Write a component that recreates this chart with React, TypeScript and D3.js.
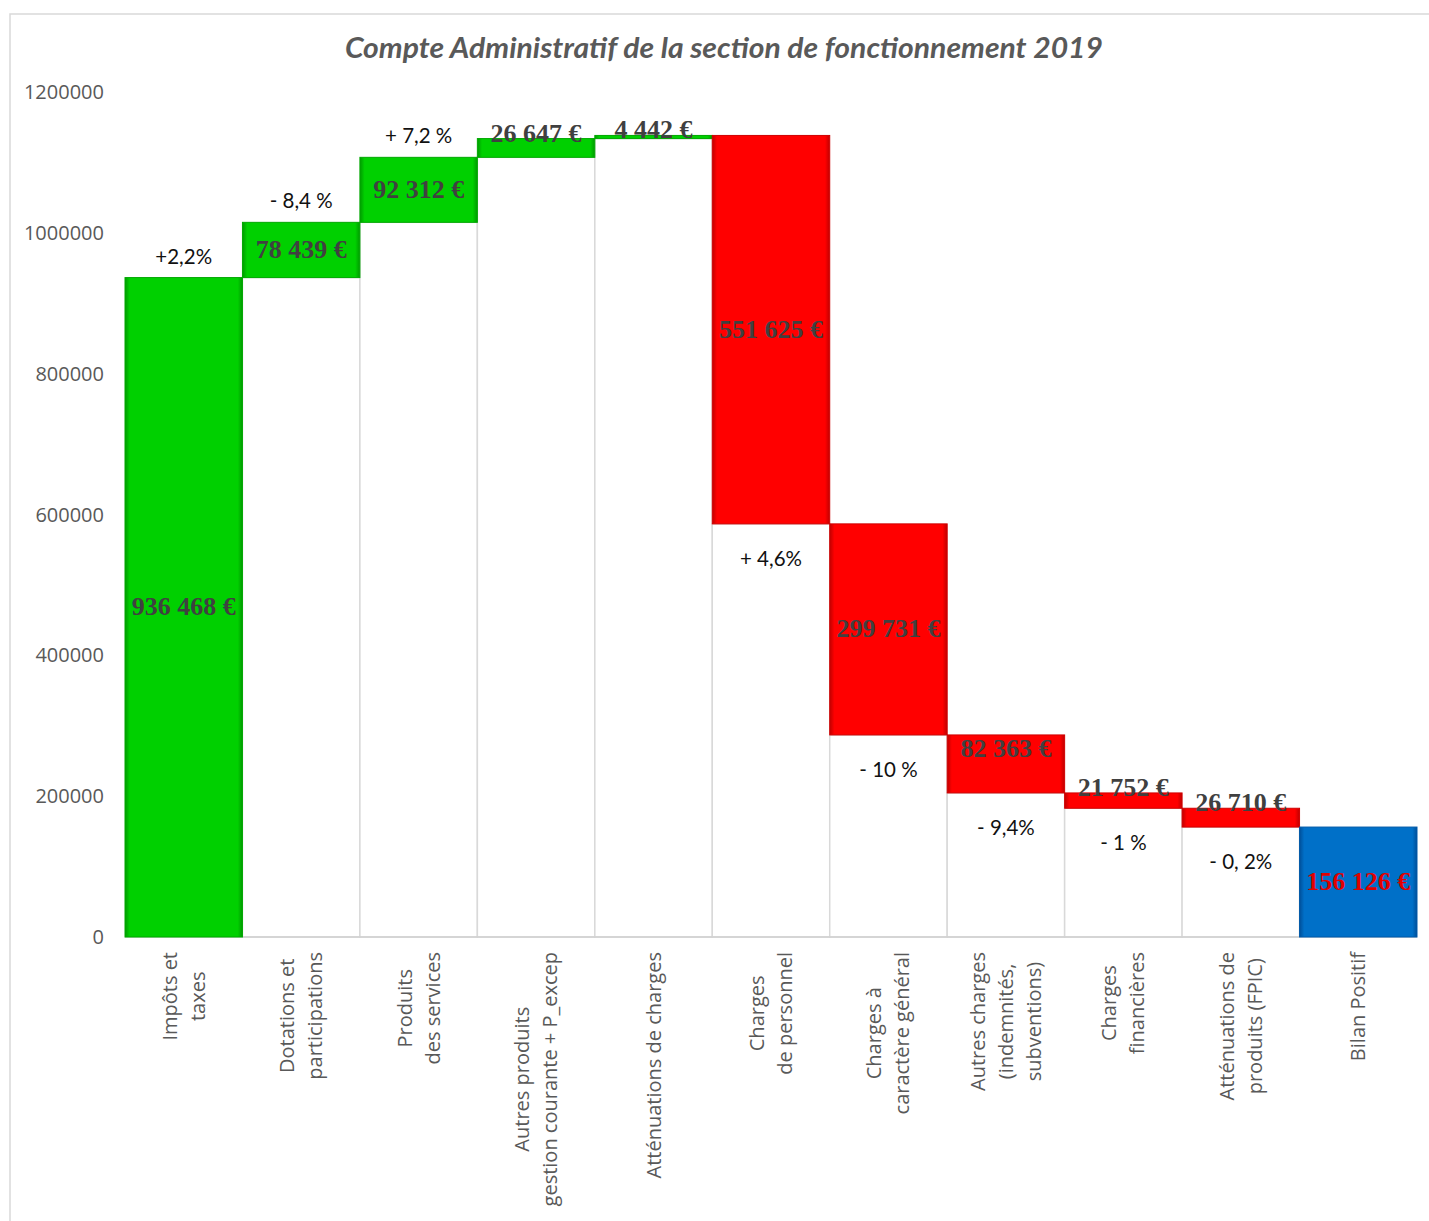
import React, { useEffect, useRef } from "react";
import * as d3 from "d3";

const title = "Compte Administratif de la section de fonctionnement  2019";
const categories: string[][] = [
  ["Impôts et", "taxes"],
  ["Dotations et", "participations"],
  ["Produits", "des services"],
  ["Autres produits", "gestion courante + P_excep"],
  ["Atténuations de charges"],
  ["Charges", "de personnel"],
  ["Charges à", "caractère général"],
  ["Autres charges", "(indemnités,", "subventions)"],
  ["Charges", "financières"],
  ["Atténuations de", "produits (FPIC)"],
  ["Bilan Positif"],
];
const values = [936468, 78439, 92312, 26647, 4442, -551625, -299731, -82363, -21752, -26710, 156126];
const kinds = ["inc", "inc", "inc", "inc", "inc", "dec", "dec", "dec", "dec", "dec", "total"];
const pctLabels = ["+2,2%", "- 8,4 %", "+ 7,2 %", "", "", "+ 4,6%", "- 10 %", "- 9,4%", "- 1 %", "- 0, 2%", ""];
const yTicks = [0, 200000, 400000, 600000, 800000, 1000000, 1200000];

const W = 1429, H = 1221;
const M = { left: 125, right: 1417, top: 92, bottom: 937 };

export default function App() {
  const ref = useRef<SVGSVGElement>(null);
  useEffect(() => {
    const svg = d3.select(ref.current);
    svg.selectAll("*").remove();
    const defs = svg.append("defs");
    const grad = (id: string, edge: string, mid: string) => {
      const g = defs.append("linearGradient").attr("id", id).attr("x1", "0").attr("x2", "1").attr("y1", "0").attr("y2", "0");
      g.append("stop").attr("offset", "0").attr("stop-color", edge);
      g.append("stop").attr("offset", "0.04").attr("stop-color", mid);
      g.append("stop").attr("offset", "0.96").attr("stop-color", mid);
      g.append("stop").attr("offset", "1").attr("stop-color", edge);
    };
    grad("gInc", "#009a00", "#00d000");
    grad("gDec", "#c00000", "#ff0000");
    grad("gTot", "#004f99", "#0070c8");

    svg.append("rect").attr("x", 10).attr("y", 14).attr("width", W).attr("height", H).attr("fill", "#fff").attr("stroke", "#d9d9d9").attr("stroke-width", 1.5);

    const x = d3.scaleBand<number>().domain(d3.range(values.length)).range([M.left, M.right]).padding(0);
    const y = d3.scaleLinear().domain([0, 1200000]).range([M.bottom, M.top]);

    let cum = 0;
    const segs = values.map((v, i) => {
      let lo: number, hi: number;
      if (kinds[i] === "total") { lo = 0; hi = v; }
      else if (v >= 0) { lo = cum; hi = cum + v; cum = hi; }
      else { hi = cum; lo = cum + v; cum = lo; }
      return { i, lo, hi, v, kind: kinds[i] };
    });

    const fmt = d3.formatLocale({ decimal: ",", thousands: " ", grouping: [3], currency: ["", " €"] }).format(",");

    svg.append("g").selectAll("rect").data(segs.filter(s => s.lo > 0)).join("rect")
      .attr("x", s => x(s.i)!).attr("width", x.bandwidth())
      .attr("y", s => y(s.lo)).attr("height", s => y(0) - y(s.lo))
      .attr("fill", "#fff").attr("stroke", "#d9d9d9").attr("stroke-width", 1.5);

    svg.append("line").attr("x1", M.left).attr("x2", M.right).attr("y1", y(0)).attr("y2", y(0)).attr("stroke", "#d0d0d0").attr("stroke-width", 1.5);

    svg.append("g").selectAll("rect").data(segs).join("rect")
      .attr("x", s => x(s.i)!).attr("width", x.bandwidth())
      .attr("y", s => y(s.hi)).attr("height", s => Math.max(1.5, y(s.lo) - y(s.hi)))
      .attr("fill", s => s.kind === "inc" ? "url(#gInc)" : s.kind === "dec" ? "url(#gDec)" : "url(#gTot)")
      .attr("stroke", s => s.kind === "inc" ? "#00a800" : s.kind === "dec" ? "#d00000" : "#0059a8")
      .attr("stroke-width", 1);

    svg.append("g").selectAll("text").data(segs).join("text")
      .attr("x", s => x(s.i)! + x.bandwidth() / 2)
      .attr("y", s => {
        const top = y(s.hi), bot = y(s.lo), h = bot - top;
        let c: number;
        if (h >= 70 || (h >= 40 && s.kind === "inc")) c = (top + bot) / 2;
        else if (h >= 40) c = top + 14;
        else c = top - 5;
        return c + 8;
      })
      .attr("text-anchor", "middle")
      .attr("font-family", "'Liberation Serif', 'Times New Roman', serif")
      .attr("font-weight", "bold")
      .attr("font-size", 26)
      .attr("fill", s => s.kind === "total" ? "#e00000" : "#404040")
      .text(s => fmt(Math.abs(s.v)) + " €");

    svg.append("g").selectAll("text").data(segs.filter(s => pctLabels[s.i])).join("text")
      .attr("x", s => x(s.i)! + x.bandwidth() / 2)
      .attr("y", s => s.v >= 0 ? y(s.hi) - 14 : y(s.lo) + 42)
      .attr("text-anchor", "middle")
      .attr("font-family", "Lato, 'Open Sans', sans-serif")
      .attr("font-size", 20.5)
      .attr("fill", "#111")
      .text(s => pctLabels[s.i]);

    svg.append("g").selectAll("text").data(yTicks).join("text")
      .attr("x", 104).attr("y", t => y(t) + 7)
      .attr("text-anchor", "end")
      .attr("font-family", "'Open Sans', sans-serif")
      .attr("font-size", 20)
      .attr("fill", "#595959")
      .text(t => String(t));

    const xl = svg.append("g");
    categories.forEach((lines, i) => {
      const cx = x(i)! + x.bandwidth() / 2;
      const g = xl.append("g").attr("transform", `translate(${cx},952) rotate(-90)`);
      const texts = lines.map(l => g.append("text")
        .attr("text-anchor", "middle")
        .attr("font-family", "'Open Sans', sans-serif")
        .attr("font-size", 20)
        .attr("fill", "#595959")
        .text(l));
      const maxW = d3.max(texts, t => (t.node() as SVGTextElement).getComputedTextLength()) || 0;
      const lh = 28;
      const n = lines.length;
      texts.forEach((t, k) => {
        t.attr("x", -maxW / 2).attr("y", (k - (n - 1) / 2) * lh + 7);
      });
    });

    svg.append("text").attr("x", 724).attr("y", 58)
      .attr("text-anchor", "middle")
      .attr("font-family", "Lato, sans-serif")
      .attr("font-style", "italic").attr("font-weight", "bold")
      .attr("font-size", 28)
      .attr("textLength", 758).attr("lengthAdjust", "spacingAndGlyphs")
      .attr("fill", "#595959")
      .text(title);
  }, []);
  return (
    <div style={{ position: "absolute", left: 0, top: 0, width: W, height: H, background: "#fff" }}>
      <svg ref={ref} width={W} height={H} />
    </div>
  );
}
